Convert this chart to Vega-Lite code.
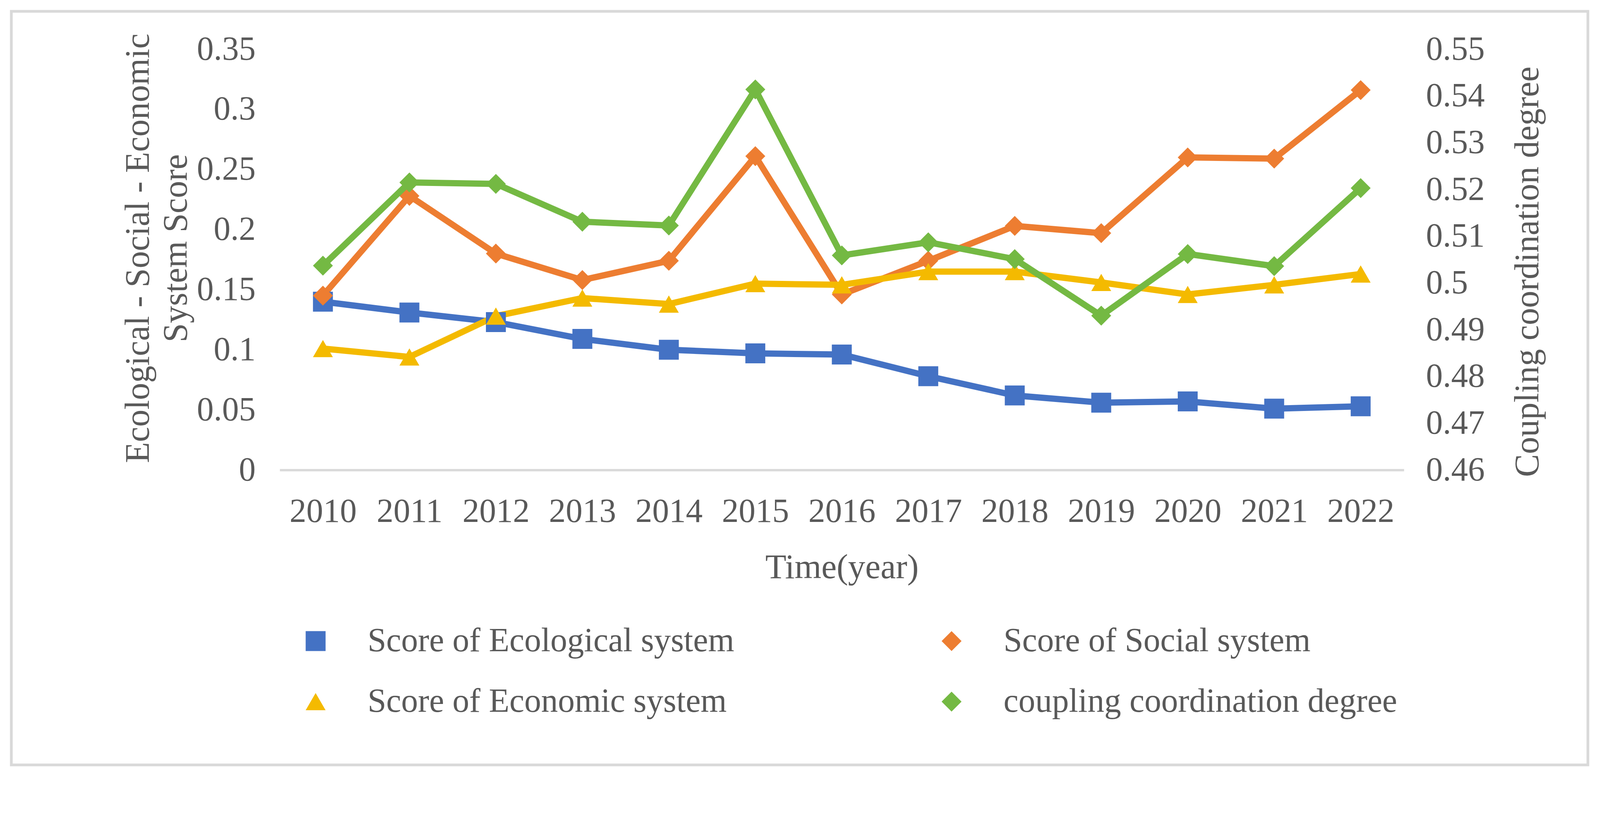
{
  "$schema": "https://vega.github.io/schema/vega-lite/v6.json",
  "description": "Ecological, social and economic system scores with coupling coordination degree, 2010-2022.",
  "width": 4036,
  "height": 1929,
  "autosize": {"type": "none"},
  "padding": {"left": 29, "top": 29, "right": 29, "bottom": 27},
  "background": "white",
  "config": {
    "view": {"stroke": "#d9d9d9", "strokeWidth": 7},
    "font": "Liberation Serif",
    "axis": {
      "labelFont": "Liberation Serif",
      "titleFont": "Liberation Serif",
      "labelColor": "#595959",
      "titleColor": "#595959",
      "labelFontSize": 86,
      "titleFontSize": 88,
      "titleFontWeight": "normal",
      "grid": false,
      "ticks": false
    }
  },
  "data": {
    "values": [
      {"year": "2010", "series": "Score of Ecological system", "value": 0.140},
      {"year": "2011", "series": "Score of Ecological system", "value": 0.131},
      {"year": "2012", "series": "Score of Ecological system", "value": 0.123},
      {"year": "2013", "series": "Score of Ecological system", "value": 0.109},
      {"year": "2014", "series": "Score of Ecological system", "value": 0.100},
      {"year": "2015", "series": "Score of Ecological system", "value": 0.097},
      {"year": "2016", "series": "Score of Ecological system", "value": 0.096},
      {"year": "2017", "series": "Score of Ecological system", "value": 0.078},
      {"year": "2018", "series": "Score of Ecological system", "value": 0.062},
      {"year": "2019", "series": "Score of Ecological system", "value": 0.056},
      {"year": "2020", "series": "Score of Ecological system", "value": 0.057},
      {"year": "2021", "series": "Score of Ecological system", "value": 0.051},
      {"year": "2022", "series": "Score of Ecological system", "value": 0.053},
      {"year": "2010", "series": "Score of Social system", "value": 0.145},
      {"year": "2011", "series": "Score of Social system", "value": 0.228},
      {"year": "2012", "series": "Score of Social system", "value": 0.180},
      {"year": "2013", "series": "Score of Social system", "value": 0.158},
      {"year": "2014", "series": "Score of Social system", "value": 0.174},
      {"year": "2015", "series": "Score of Social system", "value": 0.261},
      {"year": "2016", "series": "Score of Social system", "value": 0.146},
      {"year": "2017", "series": "Score of Social system", "value": 0.174},
      {"year": "2018", "series": "Score of Social system", "value": 0.203},
      {"year": "2019", "series": "Score of Social system", "value": 0.197},
      {"year": "2020", "series": "Score of Social system", "value": 0.260},
      {"year": "2021", "series": "Score of Social system", "value": 0.259},
      {"year": "2022", "series": "Score of Social system", "value": 0.316},
      {"year": "2010", "series": "Score of Economic system", "value": 0.101},
      {"year": "2011", "series": "Score of Economic system", "value": 0.094},
      {"year": "2012", "series": "Score of Economic system", "value": 0.128},
      {"year": "2013", "series": "Score of Economic system", "value": 0.143},
      {"year": "2014", "series": "Score of Economic system", "value": 0.138},
      {"year": "2015", "series": "Score of Economic system", "value": 0.155},
      {"year": "2016", "series": "Score of Economic system", "value": 0.154},
      {"year": "2017", "series": "Score of Economic system", "value": 0.165},
      {"year": "2018", "series": "Score of Economic system", "value": 0.165},
      {"year": "2019", "series": "Score of Economic system", "value": 0.156},
      {"year": "2020", "series": "Score of Economic system", "value": 0.146},
      {"year": "2021", "series": "Score of Economic system", "value": 0.154},
      {"year": "2022", "series": "Score of Economic system", "value": 0.163},
      {"year": "2010", "series": "coupling coordination degree", "value": 0.5037},
      {"year": "2011", "series": "coupling coordination degree", "value": 0.5215},
      {"year": "2012", "series": "coupling coordination degree", "value": 0.5212},
      {"year": "2013", "series": "coupling coordination degree", "value": 0.5131},
      {"year": "2014", "series": "coupling coordination degree", "value": 0.5123},
      {"year": "2015", "series": "coupling coordination degree", "value": 0.5414},
      {"year": "2016", "series": "coupling coordination degree", "value": 0.5059},
      {"year": "2017", "series": "coupling coordination degree", "value": 0.5087},
      {"year": "2018", "series": "coupling coordination degree", "value": 0.5051},
      {"year": "2019", "series": "coupling coordination degree", "value": 0.4930},
      {"year": "2020", "series": "coupling coordination degree", "value": 0.5062},
      {"year": "2021", "series": "coupling coordination degree", "value": 0.5036},
      {"year": "2022", "series": "coupling coordination degree", "value": 0.5203}
    ]
  },
  "encoding": {
    "x": {
      "field": "year",
      "type": "ordinal",
      "scale": {"type": "point", "padding": 0.5, "range": [687, 3565]},
      "axis": {
        "title": "Time(year)",
        "labelAngle": 0,
        "domainColor": "#d9d9d9",
        "domainWidth": 6,
        "offset": -755,
        "labelPadding": 64,
        "titlePadding": 57
      }
    },
    "color": {
      "field": "series",
      "type": "nominal",
      "scale": {
        "domain": ["Score of Ecological system", "Score of Social system", "Score of Economic system", "coupling coordination degree"],
        "range": ["#4472c4", "#ed7d31", "#f4ba00", "#74b943"]
      },
      "legend": {
        "title": null,
        "orient": "none",
        "legendX": 736,
        "legendY": 1569,
        "columns": 2,
        "direction": "horizontal",
        "symbolSize": 2600,
        "symbolStrokeWidth": 0,
        "symbolOpacity": 1,
        "labelFont": "Liberation Serif",
        "labelFontSize": 86,
        "labelColor": "#595959",
        "labelLimit": 3000,
        "labelOffset": 90,
        "columnPadding": 513,
        "rowPadding": 69
      }
    }
  },
  "layer": [
    {
      "transform": [{"filter": "datum.series !== 'coupling coordination degree'"}],
      "encoding": {
        "y": {
          "field": "value",
          "type": "quantitative",
          "scale": {"domain": [0, 0.35], "range": [1174, 97], "nice": false, "zero": false},
          "axis": {
            "orient": "left",
            "title": ["Ecological - Social - Economic", "System Score"],
            "titleLineHeight": 97,
            "titleY": 606,
            "values": [0, 0.05, 0.1, 0.15, 0.2, 0.25, 0.3, 0.35],
            "format": "~g",
            "domain": false,
            "offset": -687,
            "labelPadding": 62,
            "titlePadding": 21
          }
        }
      },
      "layer": [
        {
          "mark": {"type": "line", "strokeWidth": 16, "strokeJoin": "round", "strokeCap": "round"},
          "encoding": {}
        },
        {
          "mark": {"type": "point", "filled": true, "opacity": 1, "size": 2600, "strokeWidth": 0},
          "encoding": {
            "shape": {
              "field": "series",
              "type": "nominal",
              "scale": {
                "domain": ["Score of Ecological system", "Score of Social system", "Score of Economic system", "coupling coordination degree"],
                "range": ["square", "diamond", "triangle-up", "diamond"]
              },
              "legend": null
            }
          }
        }
      ]
    },
    {
      "transform": [{"filter": "datum.series === 'coupling coordination degree'"}],
      "encoding": {
        "y": {
          "field": "value",
          "type": "quantitative",
          "scale": {"domain": [0.46, 0.55], "range": [1174, 97], "nice": false, "zero": false},
          "axis": {
            "orient": "right",
            "title": "Coupling coordination degree",
            "titleAngle": -90,
            "titleBaseline": "middle",
            "titleAlign": "center",
            "titleX": 317,
            "titleY": 666,
            "values": [0.46, 0.47, 0.48, 0.49, 0.5, 0.51, 0.52, 0.53, 0.54, 0.55],
            "format": "~g",
            "domain": false,
            "offset": -471,
            "labelPadding": 56
          }
        }
      },
      "layer": [
        {
          "mark": {"type": "line", "strokeWidth": 16, "strokeJoin": "round", "strokeCap": "round"},
          "encoding": {}
        },
        {
          "mark": {"type": "point", "filled": true, "opacity": 1, "size": 2600, "strokeWidth": 0},
          "encoding": {
            "shape": {
              "field": "series",
              "type": "nominal",
              "legend": null
            }
          }
        }
      ]
    }
  ],
  "resolve": {"scale": {"y": "independent"}}
}
